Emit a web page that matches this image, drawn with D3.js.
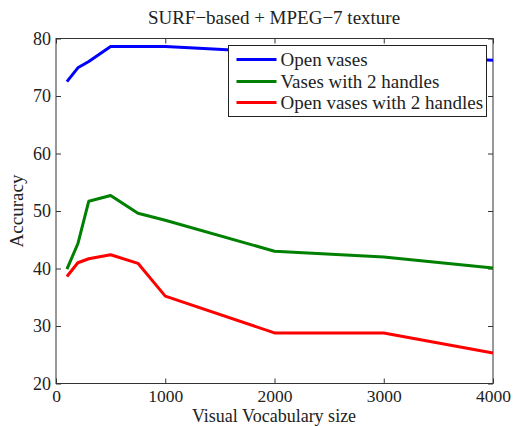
<!DOCTYPE html>
<html>
<head>
<meta charset="utf-8">
<script src="https://cdn.jsdelivr.net/npm/d3@7"></script>
<style>
  body { margin: 0; background: #fff; }
  svg text { font-family: "Liberation Serif", "Times New Roman", serif; fill: #222; }
</style>
</head>
<body>
<svg id="chart" width="513" height="426"></svg>
<script>
// vocabulary sizes on the x axis
var vocab = [100, 200, 300, 500, 750, 1000, 2000, 3000, 4000];

var openVases = [72.5, 74.9, 76.0, 78.6, 78.6, 78.6, 77.6, 77.0, 76.2];
var vases2Handles = [39.9, 44.3, 51.7, 52.7, 49.6, 48.4, 43.0, 42.0, 40.1];
var open2Handles = [38.6, 41.0, 41.7, 42.4, 40.9, 35.2, 28.8, 28.8, 25.3];

var seriesNames = ["Open vases", "Vases with 2 handles", "Open vases with 2 handles"];
var seriesColours = ["#0000ff", "#008000", "#ff0000"];

var xTicks = [0, 1000, 2000, 3000, 4000];
var yTicks = [20, 30, 40, 50, 60, 70, 80];

var plot = {left: 56, right: 493, top: 38.5, bottom: 383.5};

var x = d3.scaleLinear().domain([0, 4000]).range([plot.left, plot.right]);
var y = d3.scaleLinear().domain([20, 80]).range([plot.bottom, plot.top]);

var svg = d3.select("#chart");

// matlab style box with inward ticks on all four sides
var tickLen = 5;
var axisColour = "#333";

svg.append("g")
    .attr("transform", "translate(0," + plot.bottom + ")")
    .call(d3.axisBottom(x).tickValues(xTicks).tickSize(-tickLen).tickPadding(6).tickFormat(d3.format("d")))
    .call(function(g) {
        g.select(".domain").remove();
        g.selectAll("line").attr("stroke", axisColour);
        g.selectAll("text").attr("font-size", 17.5).attr("font-family", "Liberation Serif").attr("fill", "#222");
    });

svg.append("g")
    .attr("transform", "translate(0," + plot.top + ")")
    .call(d3.axisTop(x).tickValues(xTicks).tickSize(-tickLen).tickFormat(""))
    .call(function(g) {
        g.select(".domain").remove();
        g.selectAll("line").attr("stroke", axisColour);
    });

svg.append("g")
    .attr("transform", "translate(" + plot.left + ",0)")
    .call(d3.axisLeft(y).tickValues(yTicks).tickSize(-tickLen).tickPadding(5))
    .call(function(g) {
        g.select(".domain").remove();
        g.selectAll("line").attr("stroke", axisColour);
        g.selectAll("text").attr("font-size", 18).attr("font-family", "Liberation Serif").attr("fill", "#222");
    });

svg.append("g")
    .attr("transform", "translate(" + plot.right + ",0)")
    .call(d3.axisRight(y).tickValues(yTicks).tickSize(-tickLen).tickFormat(""))
    .call(function(g) {
        g.select(".domain").remove();
        g.selectAll("line").attr("stroke", axisColour);
    });

svg.append("rect")
    .attr("x", plot.left)
    .attr("y", plot.top)
    .attr("width", plot.right - plot.left)
    .attr("height", plot.bottom - plot.top)
    .attr("fill", "none")
    .attr("stroke", axisColour)
    .attr("stroke-width", 1);

// the three curves
var allSeries = [openVases, vases2Handles, open2Handles];
var line = d3.line()
    .x(function(d, i) { return x(vocab[i]); })
    .y(function(d) { return y(d); });

svg.selectAll(".series")
    .data(allSeries)
    .enter()
    .append("path")
    .attr("class", "series")
    .attr("d", line)
    .attr("fill", "none")
    .attr("stroke", function(d, i) { return seriesColours[i]; })
    .attr("stroke-width", 3)
    .attr("stroke-linejoin", "round");

// legend
var legend = svg.append("g").attr("transform", "translate(228.5,45.5)");
legend.append("rect")
    .attr("width", 258)
    .attr("height", 71)
    .attr("fill", "#fff")
    .attr("stroke", "#222")
    .attr("stroke-width", 1);

var rowY = [14, 36, 57];
seriesNames.forEach(function(name, i) {
    legend.append("line")
        .attr("x1", 8).attr("x2", 48)
        .attr("y1", rowY[i]).attr("y2", rowY[i])
        .attr("stroke", seriesColours[i])
        .attr("stroke-width", 3);
    legend.append("text")
        .attr("x", 52)
        .attr("y", rowY[i] + 6)
        .attr("font-size", 19)
        .text(name);
});

// title and axis labels
svg.append("text")
    .attr("x", 274)
    .attr("y", 24)
    .attr("text-anchor", "middle")
    .attr("font-size", 19)
    .text("SURF\u2212based + MPEG\u22127 texture");

svg.append("text")
    .attr("x", 274)
    .attr("y", 422)
    .attr("text-anchor", "middle")
    .attr("font-size", 18)
    .text("Visual Vocabulary size");

svg.append("text")
    .attr("transform", "translate(23,211) rotate(-90)")
    .attr("text-anchor", "middle")
    .attr("font-size", 19)
    .text("Accuracy");
</script>
</body>
</html>
